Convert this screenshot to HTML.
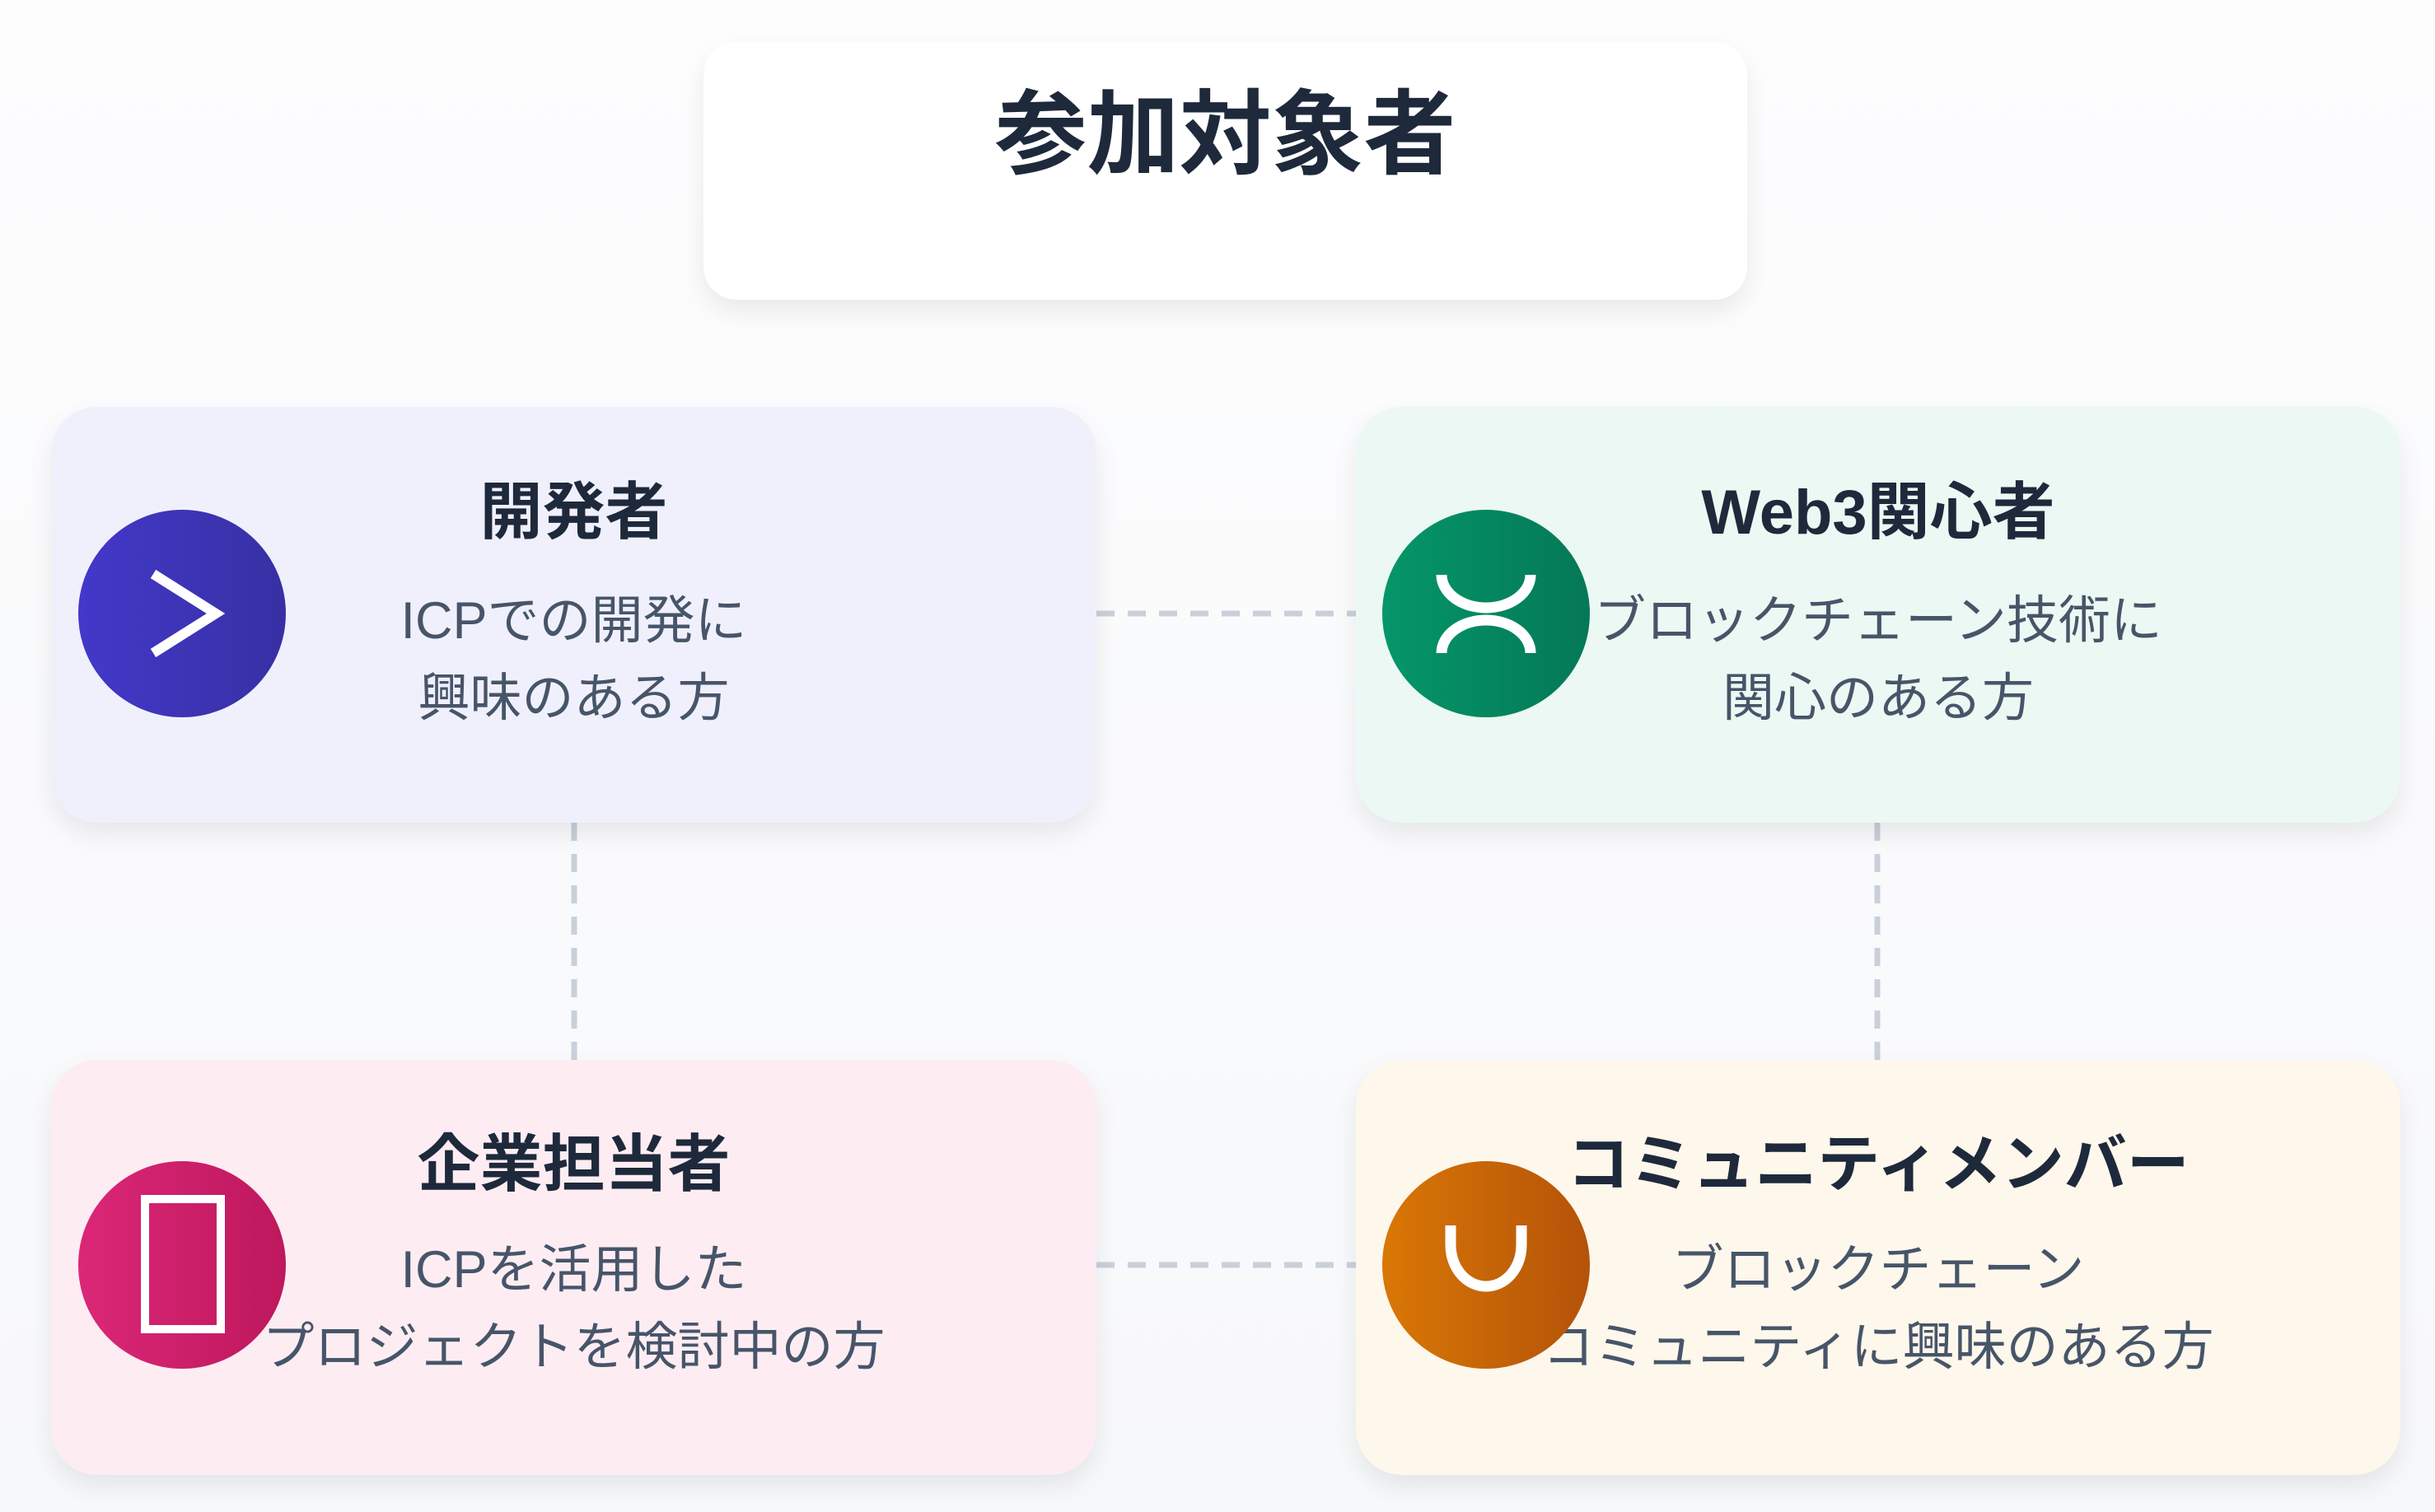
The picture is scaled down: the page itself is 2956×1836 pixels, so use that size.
<!DOCTYPE html>
<html><head><meta charset="utf-8"><style>
*{margin:0;padding:0;box-sizing:border-box}
body{width:2956px;height:1836px;overflow:hidden;background:linear-gradient(180deg,#fdfdfe,#f7f8fa);font-family:"Liberation Sans","Noto Sans CJK JP",sans-serif;position:relative}
.box{position:absolute;border-radius:56px;box-shadow:0 14px 30px rgba(0,0,0,0.08)}
.t{position:absolute;width:100%;text-align:center;color:#1e293b;font-weight:bold}
.s{position:absolute;width:100%;text-align:center;color:#475569;font-size:63px;line-height:94px;white-space:nowrap}
svg{position:absolute;left:0;top:0}
</style></head><body>
<svg width="2956" height="1836">
<g stroke="#c8d0db" stroke-width="7" stroke-dasharray="22 16" fill="none">
<line x1="1331" y1="745" x2="1646" y2="745"/>
<line x1="1331" y1="1536" x2="1646" y2="1536"/>
<line x1="697" y1="999" x2="697" y2="1287"/>
<line x1="2279" y1="999" x2="2279" y2="1287"/>
</g></svg>
<div class="box" style="left:854px;top:51px;width:1267px;height:313px;background:#fff;border-radius:40px">
<div class="t" style="top:48px;font-size:112px;line-height:130px">参加対象者</div></div>

<div class="box" style="left:62px;top:494px;width:1269px;height:505px;background:#f0f0fd">
<div class="t" style="top:84px;font-size:76px;line-height:90px">開発者</div>
<div class="s" style="top:213px">ICPでの開発に<br>興味のある方</div></div>

<div class="box" style="left:1646px;top:494px;width:1268px;height:505px;background:#ecf8f3">
<div class="t" style="top:84px;font-size:76px;line-height:90px">Web3関心者</div>
<div class="s" style="top:213px">ブロックチェーン技術に<br>関心のある方</div></div>

<div class="box" style="left:62px;top:1287px;width:1269px;height:504px;background:#fdedf3">
<div class="t" style="top:83px;font-size:76px;line-height:90px">企業担当者</div>
<div class="s" style="top:208px">ICPを活用した<br>プロジェクトを検討中の方</div></div>

<div class="box" style="left:1646px;top:1287px;width:1268px;height:504px;background:#fef7eb">
<div class="t" style="top:83px;font-size:76px;line-height:90px">コミュニティメンバー</div>
<div class="s" style="top:208px">ブロックチェーン<br>コミュニティに興味のある方</div></div>

<svg width="2956" height="1836">
<defs>
<linearGradient id="g1"><stop offset="0" stop-color="#4338ca"/><stop offset="1" stop-color="#3730a3"/></linearGradient>
<linearGradient id="g2"><stop offset="0" stop-color="#059669"/><stop offset="1" stop-color="#047857"/></linearGradient>
<linearGradient id="g3"><stop offset="0" stop-color="#db2777"/><stop offset="1" stop-color="#be185d"/></linearGradient>
<linearGradient id="g4"><stop offset="0" stop-color="#d97706"/><stop offset="1" stop-color="#b45309"/></linearGradient>
</defs>
<circle cx="221" cy="745" r="126" fill="url(#g1)"/>
<polyline points="186,697 262,745 186,793" fill="none" stroke="#fff" stroke-width="12"/>
<circle cx="1804" cy="745" r="126" fill="url(#g2)"/>
<path d="M1750,698 A54,40 0 0 0 1858,698" fill="none" stroke="#fff" stroke-width="13"/>
<path d="M1750,793 A54,40 0 0 1 1858,793" fill="none" stroke="#fff" stroke-width="13"/>
<circle cx="221" cy="1536" r="126" fill="url(#g3)"/>
<rect x="176" y="1456" width="92" height="158" fill="none" stroke="#fff" stroke-width="10"/>
<circle cx="1804" cy="1536" r="126" fill="url(#g4)"/>
<path d="M1761,1488 L1761,1512 A43,50 0 0 0 1847,1512 L1847,1488" fill="none" stroke="#fff" stroke-width="13"/>
</svg>
</body></html>
